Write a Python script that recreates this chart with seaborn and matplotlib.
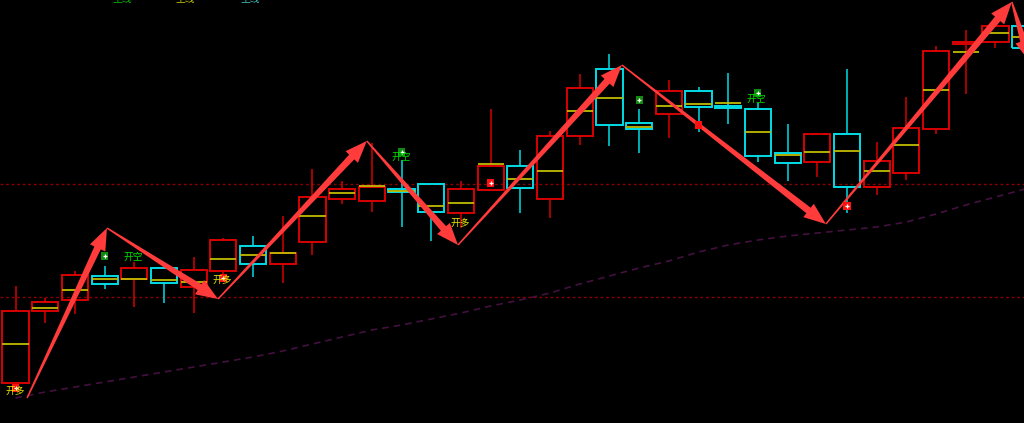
import numpy as np
import pandas as pd
import matplotlib
matplotlib.use("Agg")
import matplotlib.pyplot as plt
import matplotlib.transforms as mtransforms
from matplotlib.patches import Polygon
import seaborn as sns

# ---------------- data (price units) ----------------
opens  = [40, 112, 123, 147, 144, 155, 136, 152, 177, 159, 181, 224, 222, 234, 239, 210, 233, 257,
          224, 287, 354, 300, 309, 332, 317, 314, 270, 261, 289, 236, 250, 294, 379, 381, 397]
closes = [112, 121, 148, 139, 155, 140, 153, 183, 159, 170, 226, 234, 236, 231, 211, 234, 257, 235,
          287, 335, 298, 294, 332, 316, 315, 267, 260, 289, 236, 262, 295, 372, 381, 397, 375]
highs  = [137, 125, 152, 157, 161, 155, 166, 185, 187, 207, 254, 242, 280, 263, 239, 242, 314, 273,
          292, 349, 369, 314, 343, 336, 350, 320, 299, 290, 354, 281, 326, 377, 393, 397, 403]
lows   = [37, 100, 109, 134, 116, 120, 110, 145, 146, 140, 168, 219, 211, 196, 182, 195, 233, 210,
          205, 278, 277, 270, 285, 291, 299, 261, 242, 246, 210, 228, 243, 289, 329, 375, 370]
mids   = [79, 115, 133, 144, 144, 143, 141, 164, 168, 170, 207, 230, 237, 232, 217, 220, 259, 244,
          252, 312, 325, 296, 317, 319, 320, 291, 268, 271, 272, 252, 278, 333, 371, 390, 386]
trend  = [25, 31, 36, 41, 46, 51, 56, 61, 66, 72, 79, 86, 93, 98, 104, 110, 117, 123,
          130, 139, 147, 155, 162, 171, 178, 183, 187, 190, 193, 196, 201, 209, 218, 226, 234]

level_lines = [239, 126]

zz_x = [0.39, 3.08, 6.82, 11.83, 14.90, 20.42, 27.29, 33.55, 34.16]
zz_y = [25, 195, 124, 282, 178, 358, 199, 421, 361]

buy_sig_x = [0, 7, 16, 28]
buy_sig_y = [35, 145, 240, 217]
plain_sig_x = [23]
plain_sig_y = [298]
sell_sig_x = [3, 13, 21, 25]
sell_sig_y = [167, 271, 323, 330]

long_lbl_x = [0, 6.95, 14.97]
long_lbl_y = [32, 143, 200]
short_lbl_x = [3.96, 13.0, 24.96, 34.3]
short_lbl_y = [166, 266, 324, 421]
short_lbl_t = ["开空", "开空", "开空", "开空"]

top_lbl_x = [3.6, 5.7, 7.9]
top_lbl_t = ["主线", "主线", "主线"]
top_lbl_c = ["#00c000", "#c8c800", "#40c0c0"]

# ---------------- style ----------------
sns.set_theme(style="dark", rc={"axes.facecolor": "black", "figure.facecolor": "black",
                                 "axes.grid": False})
plt.rcParams['font.family'] = ['Noto Sans CJK SC', 'DejaVu Sans']

RED = "#d80000"
CYAN = "#00dce6"
YEL = "#c0bc00"

fig = plt.figure(figsize=(10.24, 4.23), dpi=100)
ax = fig.add_axes([0, 0, 1, 1])
ax.set_facecolor("black")
ax.set_xlim(-0.522, 33.96)
ax.set_ylim(0, 423)
ax.set_axis_off()

n = len(opens)
idx = np.arange(n)
o = np.array(opens, float); c = np.array(closes, float)
h = np.array(highs, float); l = np.array(lows, float)
top = np.maximum(o, c); bot = np.minimum(o, c)
cols = [RED if cc >= oo else CYAN for oo, cc in zip(o, c)]

# level lines
for lv in level_lines:
    ax.axhline(lv, color="#8a0000", lw=1.0, ls=(0, (2, 2)), zorder=1)

# trend line via seaborn
df = pd.DataFrame({"x": idx, "y": trend})
sns.lineplot(data=df, x="x", y="y", ax=ax, color="#44103f", lw=1.2,
             linestyle=(0, (4, 3)), zorder=2)
ax.set_xlabel(""); ax.set_ylabel("")

# wicks
ax.vlines(idx, top, h, colors=cols, lw=1.1, zorder=3)
ax.vlines(idx, l, bot, colors=cols, lw=1.1, zorder=3)
# bodies
W = 0.88
ax.bar(idx, np.maximum(top - bot, 1.5), bottom=bot, width=W, facecolor="none",
       edgecolor=cols, linewidth=1.4, zorder=4)
# mid lines
ax.hlines(mids, idx - W / 2, idx + W / 2, colors=YEL, lw=1.3, zorder=5)

# zigzag tapered arrows
def tapered_arrow(p0, p1, w0=1.5, w1=7.0, hw=17.0, hl=22.0, color="#ff3b3b"):
    t = ax.transData
    a = np.array(t.transform(p0)); b = np.array(t.transform(p1))
    d = b - a; L = np.hypot(*d); u = d / L; nv = np.array([-u[1], u[0]])
    s = b - u * hl
    pts = [a + nv * w0 / 2, s + nv * w1 / 2, s + nv * hw / 2, b,
           s - nv * hw / 2, s - nv * w1 / 2, a - nv * w0 / 2]
    ax.add_patch(Polygon(pts, closed=True, facecolor=color, edgecolor="none",
                         transform=mtransforms.IdentityTransform(), zorder=7))

for i in range(len(zz_x) - 1):
    tapered_arrow((zz_x[i], zz_y[i]), (zz_x[i + 1], zz_y[i + 1]))

# signal markers
ax.scatter(buy_sig_x, buy_sig_y, marker="s", s=26, color="#ff1010", edgecolor="none", zorder=8)
ax.scatter(buy_sig_x, buy_sig_y, marker="+", s=12, color="white", lw=0.9, zorder=9)
ax.scatter(plain_sig_x, plain_sig_y, marker="s", s=26, color="#ff1010", edgecolor="none", zorder=8)
ax.scatter(sell_sig_x, sell_sig_y, marker="s", s=26, color="#108a10", edgecolor="none", zorder=8)
ax.scatter(sell_sig_x, sell_sig_y, marker="+", s=12, color="white", lw=0.9, zorder=9)

# labels
for x, y in zip(long_lbl_x, long_lbl_y):
    ax.text(x, y, "开多", color="#e6e600", fontsize=7, ha="center", va="center", zorder=10)
for x, y, t in zip(short_lbl_x, short_lbl_y, short_lbl_t):
    ax.text(x, y, t, color="#00e000", fontsize=7, ha="center", va="center", zorder=10)
for x, t, col in zip(top_lbl_x, top_lbl_t, top_lbl_c):
    ax.text(x, 421, t, color=col, fontsize=7, ha="center", va="baseline", zorder=10)

fig.savefig("out.png", dpi=100, facecolor="black")
